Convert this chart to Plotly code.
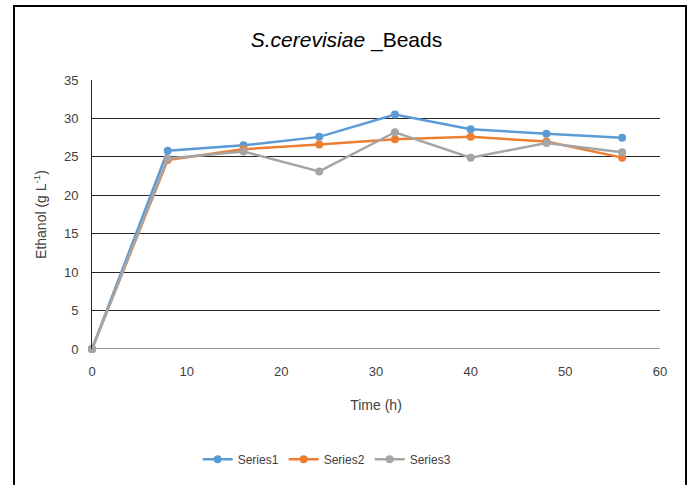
import plotly.graph_objects as go

time_h = [0, 8, 16, 24, 32, 40, 48, 56]
series1 = [0, 25.8, 26.5, 27.6, 30.5, 28.6, 28.0, 27.5]
series2 = [0, 24.6, 26.0, 26.6, 27.3, 27.6, 27.0, 24.9]
series3 = [0, 24.8, 25.7, 23.1, 28.2, 24.9, 26.8, 25.6]
names = ["Series1", "Series2", "Series3"]
colors = ["#5B9BD5", "#ED7D31", "#A5A5A5"]
x_ticks = [0, 10, 20, 30, 40, 50, 60]
y_ticks = [0, 5, 10, 15, 20, 25, 30, 35]

FONT = "Liberation Sans Narrow, Arial Narrow, Liberation Sans, sans-serif"

fig = go.Figure()
for name, ys, c in zip(names, [series1, series2, series3], colors):
    fig.add_trace(go.Scatter(
        x=time_h, y=ys, name=name, mode="lines+markers",
        line=dict(color=c, width=2.5),
        marker=dict(color=c, size=8),
        cliponaxis=False,
    ))

fig.update_layout(
    width=693, height=485,
    margin=dict(l=92, r=33, t=80, b=136, autoexpand=False),
    paper_bgcolor="white", plot_bgcolor="white",
    font=dict(family=FONT, size=13, color="#404040"),
    title=dict(text="<i>S.cerevisiae</i> _Beads", x=0.5, xanchor="center",
               y=0.918, yanchor="middle",
               font=dict(family=FONT, size=21, color="#000000")),
    xaxis=dict(range=[0, 60], tickvals=x_ticks, showgrid=False,
               showline=False, zeroline=False,
               ticks="outside", ticklen=10, tickcolor="rgba(0,0,0,0)",
               tickfont=dict(size=13),
               title=dict(text="Time (h)", standoff=22,
                          font=dict(size=14, color="#404040"))),
    yaxis=dict(range=[0, 35], tickvals=y_ticks, showgrid=True,
               gridcolor="#262626", gridwidth=1, zeroline=False,
               showline=True, linecolor="#262626", linewidth=1,
               ticks="outside", ticklen=10, tickcolor="rgba(0,0,0,0)",
               tickfont=dict(size=13),
               title=dict(text="Ethanol (g L<sup>-1</sup>)", standoff=14,
                          font=dict(size=14, color="#404040"))),
    legend=dict(orientation="h", x=0.414, xanchor="center", y=-0.41,
                yanchor="middle", font=dict(size=12, color="#404040"),
                itemwidth=30),
    showlegend=True,
)

# x-axis baseline
fig.add_shape(type="line", xref="paper", yref="y", x0=0, x1=1, y0=0, y1=0,
              line=dict(color="#262626", width=1), layer="below")
# outer frame
fig.add_shape(type="rect", xref="paper", yref="paper",
              x0=(14 - 92) / 568, x1=(686 - 92) / 568,
              y0=(349 - 500) / 269, y1=(349 - 6) / 269,
              line=dict(color="#000000", width=2), fillcolor="rgba(0,0,0,0)")

fig.write_html("out.html", config={"displayModeBar": False},
               post_script="document.body.style.margin='0';")
